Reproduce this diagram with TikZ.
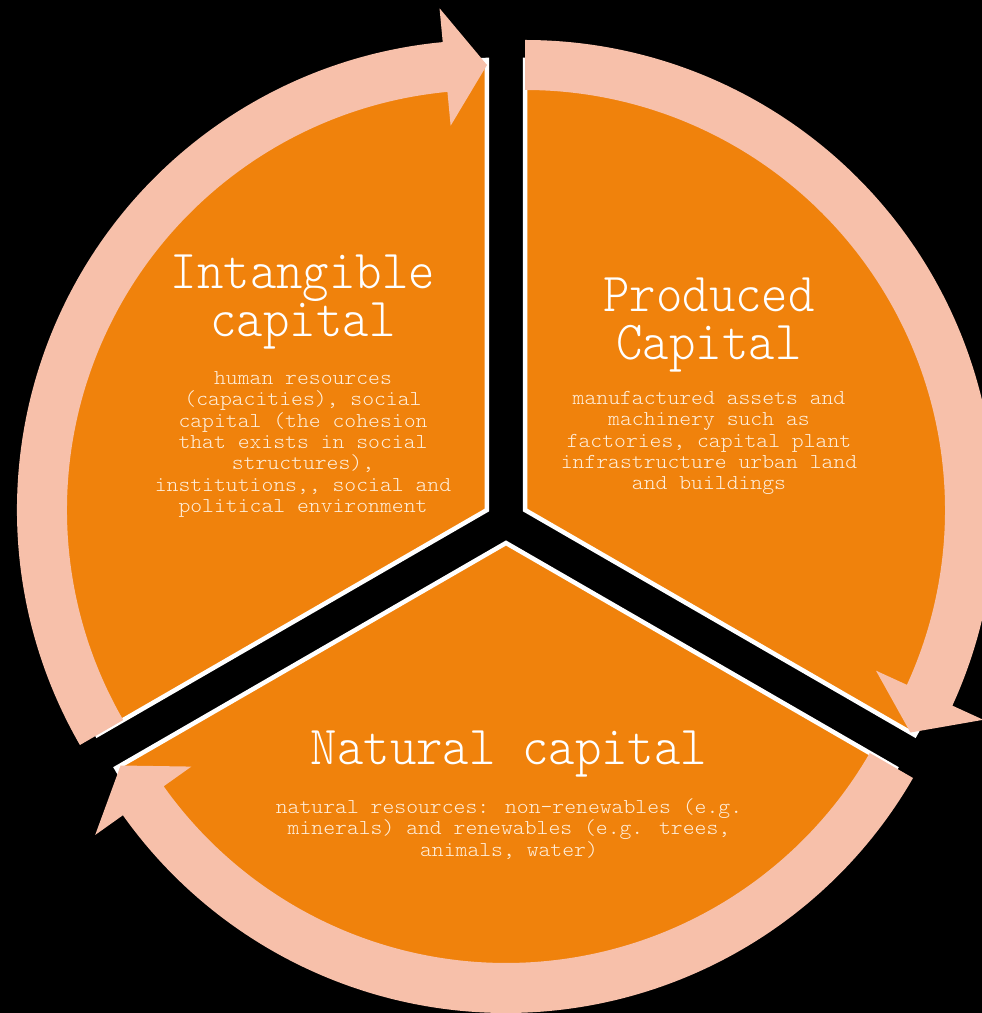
\documentclass[tikz,border=0pt]{standalone}
\usepackage{fontspec}
\newfontfamily\diagfont[FakeStretch=0.915]{lmmonolt10-regular.otf}
\newfontfamily\smallfont[FakeStretch=1.06]{lmmonolt10-regular.otf}
\definecolor{pieorange}{RGB}{240,130,12}
\definecolor{ringpink}{RGB}{247,192,170}
\definecolor{bodycream}{RGB}{255,238,218}
\begin{document}
\begin{tikzpicture}[x=1pt, y=1pt,
    sector/.style={fill=pieorange, draw=white, line width=4.5pt, line join=miter},
    ring/.style={fill=ringpink},
    headline/.style={text=white, align=center, inner sep=0pt,
      font=\diagfont\fontsize{55}{48}\selectfont},
    detail/.style={text=bodycream, align=center, inner sep=0pt,
      font=\smallfont\fontsize{21.3}{21.3}\selectfont}]
  \useasboundingbox (0,0) rectangle (982,1013);
  \fill[black] (0,0) rectangle (982,1013);
  \coordinate (AL) at (486.95,503);
  \coordinate (AR) at (525.05,503);
  \coordinate (AB) at (506,470);
  \foreach \p/\s in {AL/90, AR/-30, AB/210}
    \draw[sector] (\p) -- ++(\s:450) arc[start angle=\s, delta angle=120, radius=450] -- cycle;
  \foreach \p/\s in {AL/210, AR/90, AB/-30}
    \fill[ring, shift={(\p)}] (\s:470) arc[start angle=\s, end angle=\s-114.6, radius=470]
      -- (\s-114.6:504) -- (\s-120:445) -- (\s-114.6:386) -- (\s-114.6:420)
      arc[start angle=\s-114.6, end angle=\s, radius=420] -- cycle;
  \node (intangible) [headline] at (303,710.5) {Intangible\\capital};
  \node (intangibletext) [detail, below of=intangible, node distance=142] {human resources\\(capacities), social\\capital (the cohesion\\that exists in social\\structures),\\institutions,, social and\\political environment};
  \node (produced) [headline] at (709,688) {Produced\\Capital};
  \node (producedtext) [detail, below of=produced, node distance=118] {manufactured assets and\\machinery such as\\factories, capital plant\\infrastructure urban land\\and buildings};
  \node (natural) [headline] at (509,259) {Natural capital};
  \node (naturaltext) [detail, below of=natural, node distance=75] {natural resources: non-renewables (e.g.\\minerals) and renewables (e.g. trees,\\animals, water)};
\end{tikzpicture}
\end{document}
